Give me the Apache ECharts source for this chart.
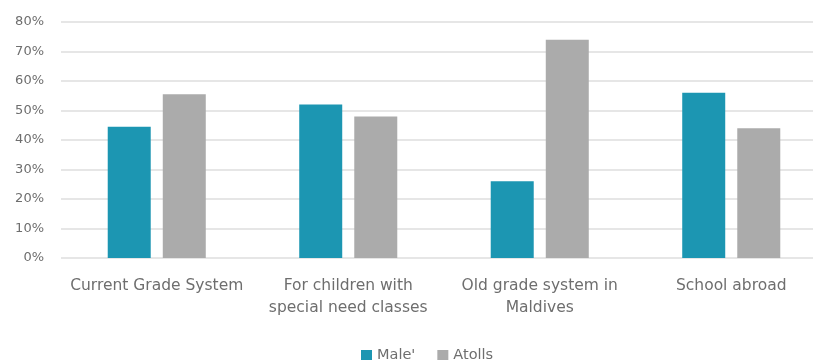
<!DOCTYPE html>
<html>
<head>
<meta charset="utf-8">
<script src="https://cdn.jsdelivr.net/npm/echarts@6/dist/echarts.min.js"></script>
<style>
  html, body { margin: 0; padding: 0; background: #ffffff; }
  #chart { width: 813px; height: 360px; }
</style>
</head>
<body>
<div id="chart"></div>
<script>
// Survey responses by school preference, split by region
const categories = [
  'Current Grade System',
  'For children with\nspecial need classes',
  'Old grade system in\nMaldives',
  'School abroad'
];
const maleValues = [44.5, 52, 26, 56];
const atollsValues = [55.5, 48, 74, 44];
const seriesNames = ["Male'", 'Atolls'];

const chart = echarts.init(document.getElementById('chart'), null, { renderer: 'canvas' });

const textColor = '#6e6e6e';
const fontFamily = '"DejaVu Sans", "Open Sans", sans-serif';

chart.setOption({
  animation: false,
  color: ['#1c96b2', '#ababab'],
  // plot area runs past the right edge of the canvas
  grid: {
    left: 61, top: 22, width: 766, height: 236,
    containLabel: false,
    outerBoundsMode: 'none'
  },
  legend: {
    top: 343,
    left: 356,
    itemWidth: 11,
    itemHeight: 11,
    itemGap: 22,
    icon: 'rect',
    textStyle: { color: textColor, fontSize: 14.5, fontFamily: fontFamily },
    data: seriesNames
  },
  xAxis: {
    type: 'category',
    data: categories,
    axisLine: { show: false },
    axisTick: { show: false },
    axisLabel: {
      color: textColor,
      fontSize: 15.5,
      lineHeight: 22.5,
      margin: 16.5,
      interval: 0,
      fontFamily: fontFamily
    }
  },
  yAxis: {
    type: 'value',
    min: 0,
    max: 80,
    interval: 10,
    axisLine: { show: false },
    axisTick: { show: false },
    axisLabel: {
      color: textColor,
      fontSize: 13,
      margin: 17,
      formatter: '{value}%',
      fontFamily: fontFamily
    },
    splitLine: { lineStyle: { color: '#dedede', width: 1.5 } }
  },
  series: [
    {
      name: seriesNames[0],
      type: 'bar',
      data: maleValues,
      barWidth: 43,
      barGap: '28%'
    },
    {
      name: seriesNames[1],
      type: 'bar',
      data: atollsValues,
      barWidth: 43,
      barGap: '28%'
    }
  ]
});
</script>
</body>
</html>
